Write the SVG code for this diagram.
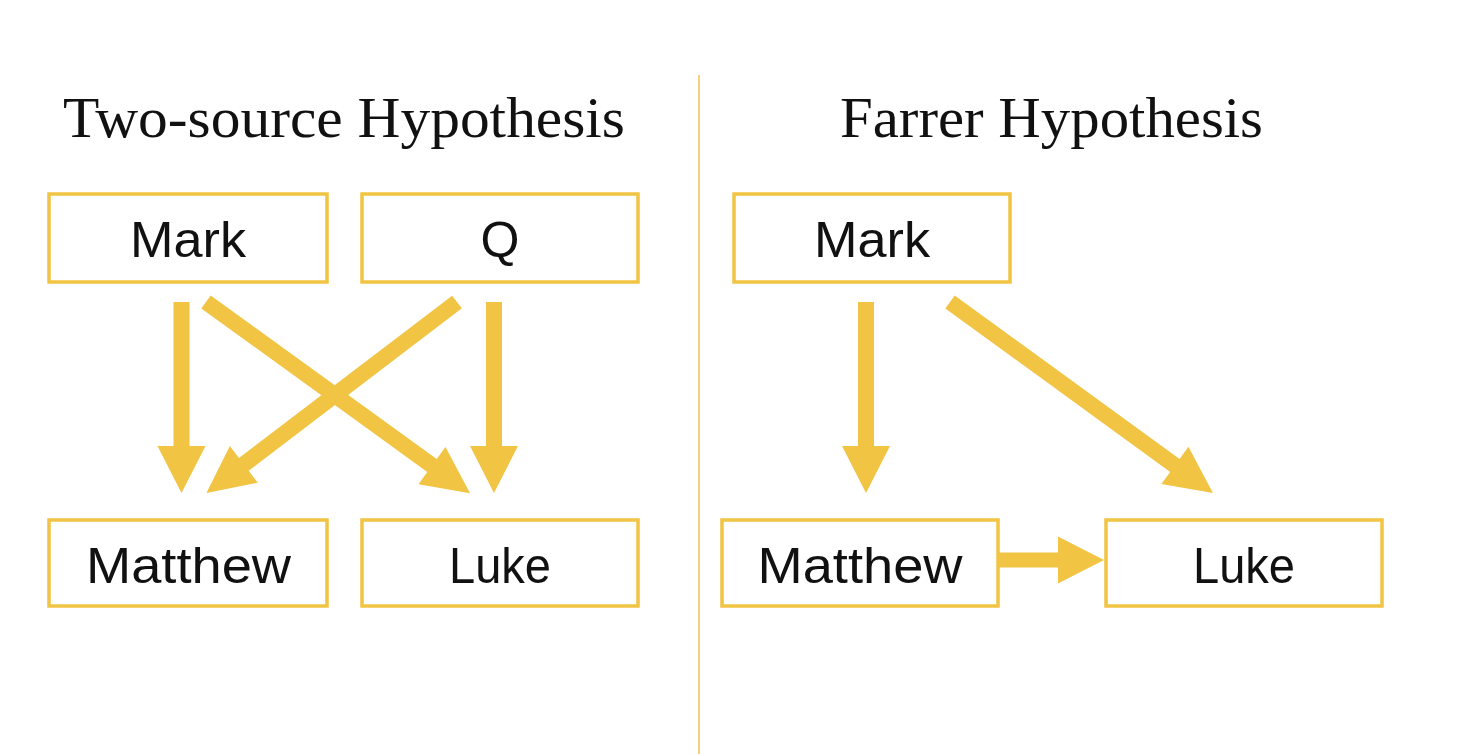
<svg xmlns="http://www.w3.org/2000/svg" width="1474" height="754" viewBox="0 0 1474 754">
  <style>
    .box { fill: #ffffff; stroke: #F2C443; stroke-width: 3.5; }
    .lbl { font-family: "Liberation Sans", Arial, sans-serif; font-size: 50px; fill: #111111; text-anchor: middle; }
    .title { font-family: "Liberation Serif", "Times New Roman", serif; font-size: 58px; fill: #111111; }
    .arrow { fill: #F2C443; stroke: none; }
    .divider { stroke: #F5D27A; stroke-width: 2; }
  </style>
  <rect x="0" y="0" width="1474" height="754" fill="#ffffff"/>

  <g id="divider">
    <line class="divider" x1="699" y1="75" x2="699" y2="754"/>
  </g>

  <g id="titles">
    <text class="title" x="63" y="137" textLength="562" lengthAdjust="spacingAndGlyphs">Two-source Hypothesis</text>
    <text class="title" x="840" y="137" textLength="423" lengthAdjust="spacingAndGlyphs">Farrer Hypothesis</text>
  </g>

  <g id="connectors">
    <!-- left panel -->
    <path class="arrow" transform="translate(181.5,302) rotate(90)" d="M0,-8 H144 V-24 L191,0 L144,24 V8 H0 Z"/>
    <path class="arrow" transform="translate(494,302) rotate(90)" d="M0,-8 H144 V-24 L191,0 L144,24 V8 H0 Z"/>
    <path class="arrow" transform="translate(206,302) rotate(35.9)" d="M0,-8 H279 V-23 L326,0 L279,23 V8 H0 Z"/>
    <path class="arrow" transform="translate(457,302) rotate(142.7)" d="M0,-8 H268 V-23 L315,0 L268,23 V8 H0 Z"/>
    <!-- right panel -->
    <path class="arrow" transform="translate(866,302) rotate(90)" d="M0,-8 H144 V-24 L191,0 L144,24 V8 H0 Z"/>
    <path class="arrow" transform="translate(950,302) rotate(36)" d="M0,-8 H278 V-23 L325,0 L278,23 V8 H0 Z"/>
    <path class="arrow" transform="translate(998,560)" d="M0,-7.5 H60 V-23.5 L106,0 L60,23.5 V7.5 H0 Z"/>
  </g>

  <g id="node-mark-left">
    <rect class="box" x="49" y="194" width="278" height="88"/>
    <text class="lbl" x="188" y="257" textLength="116" lengthAdjust="spacingAndGlyphs">Mark</text>
  </g>
  <g id="node-q">
    <rect class="box" x="362" y="194" width="276" height="88"/>
    <text class="lbl" x="500" y="257">Q</text>
  </g>
  <g id="node-matthew-left">
    <rect class="box" x="49" y="520" width="278" height="86"/>
    <text class="lbl" x="188.5" y="583" textLength="205" lengthAdjust="spacingAndGlyphs">Matthew</text>
  </g>
  <g id="node-luke-left">
    <rect class="box" x="362" y="520" width="276" height="86"/>
    <text class="lbl" x="500" y="583" textLength="102" lengthAdjust="spacingAndGlyphs">Luke</text>
  </g>

  <g id="node-mark-right">
    <rect class="box" x="734" y="194" width="276" height="88"/>
    <text class="lbl" x="872" y="257" textLength="116" lengthAdjust="spacingAndGlyphs">Mark</text>
  </g>
  <g id="node-matthew-right">
    <rect class="box" x="722" y="520" width="276" height="86"/>
    <text class="lbl" x="860" y="583" textLength="205" lengthAdjust="spacingAndGlyphs">Matthew</text>
  </g>
  <g id="node-luke-right">
    <rect class="box" x="1106" y="520" width="276" height="86"/>
    <text class="lbl" x="1244" y="583" textLength="102" lengthAdjust="spacingAndGlyphs">Luke</text>
  </g>
</svg>
